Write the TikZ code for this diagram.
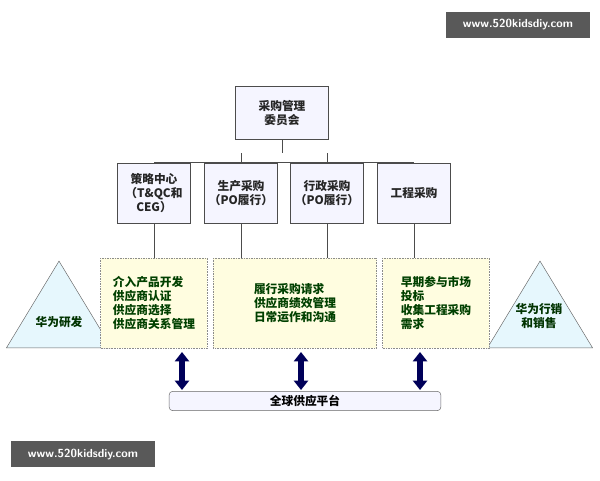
\documentclass[tikz,border=0pt]{standalone}
\usepackage{fontspec}
\setmainfont{Noto Sans CJK SC}
\usetikzlibrary{shapes.geometric,arrows.meta}

\begin{document}
\begin{tikzpicture}[x=0.03cm, y=-0.03cm,
  font=\fontsize{10}{12}\selectfont\bfseries,
  unit/.style = {draw=black!70, fill=blue!4, minimum width=2.19cm, minimum height=1.8cm, align=center, text=black!85},
  task/.style = {draw=black!45, densely dotted, fill=yellow!12, minimum height=2.7cm, align=left, text=green!25!black},
  side/.style = {draw=black!60, fill=cyan!10, isosceles triangle, shape border rotate=90, isosceles triangle stretches, minimum width=3.15cm, minimum height=2.6cm, inner sep=0pt},
  link/.style = {draw=black!70, thick},
  updown/.style = {{Triangle[width=12pt,length=8pt]}-{Triangle[width=12pt,length=8pt]}, line width=4.5pt, blue!35!black},
  stamp/.style = {fill=black!65, text=white, font=\fontsize{10}{12}\selectfont\sffamily\bfseries, minimum width=4.3cm, minimum height=0.8cm}]
  \useasboundingbox (0,0) rectangle (600,480);
  % watermarks
  \node[stamp] (wmtop) at (518,25) {www.520kidsdiy.com};
  \node[stamp] (wmbot) at (83,454) {www.520kidsdiy.com};
  % sides
  \node[side, anchor=south] (rd) at (59,348) {};
  \node at (59,322) [text=green!20!black] {华为研发};
  \node[side, anchor=south] (sales) at (540,348) {};
  \node at (539,316) [align=center, text=green!20!black] {华为行销\\和销售};
  % committee
  \node[unit, minimum width=2.8cm, minimum height=1.6cm] (board) at (282,113) {采购管理\\委员会};
  \node[unit] (strat) at (154,193) {策略中心\\（T\&QC和\\CEG）};
  \node[unit] (prod) at (241,193) {生产采购\\（PO履行）};
  \node[unit] (admin) at (327,193) {行政采购\\（PO履行）};
  \node[unit] (proj) at (414,193) {工程采购};
  % tasks
  \node[task, minimum width=3.2cm] (t1) at (154,303) {介入产品开发\\供应商认证\\供应商选择\\供应商关系管理};
  \node[task, minimum width=4.9cm] (t2) at (295,303) {履行采购请求\\供应商绩效管理\\日常运作和沟通};
  \node[task, minimum width=3.2cm] (t3) at (436,303) {早期参与市场\\投标\\收集工程采购\\需求};
  % platform
  \node[draw=black!60, fill=blue!4, rounded corners=3pt, minimum width=8.15cm, minimum height=0.55cm] (plat) at (305,401) {全球供应平台};
  % links
  \coordinate (bus) at (282,153);
  \draw[link] (board) -- (bus);
  \draw[link] (strat.north) |- (proj.north);
  \foreach \u in {prod,admin} \draw[link] (\u.north) -- ++(0,-10);
  \draw[link] (strat) -- (strat |- t1.north);
  \draw[link] (prod) -- (prod |- t2.north);
  \draw[link] (admin) -- (admin |- t2.north);
  \draw[link] (proj) -- (proj |- t3.north);
  \foreach \x in {182,301,420} \draw[updown] (\x,352) -- (\x,390);
\end{tikzpicture}
\end{document}
